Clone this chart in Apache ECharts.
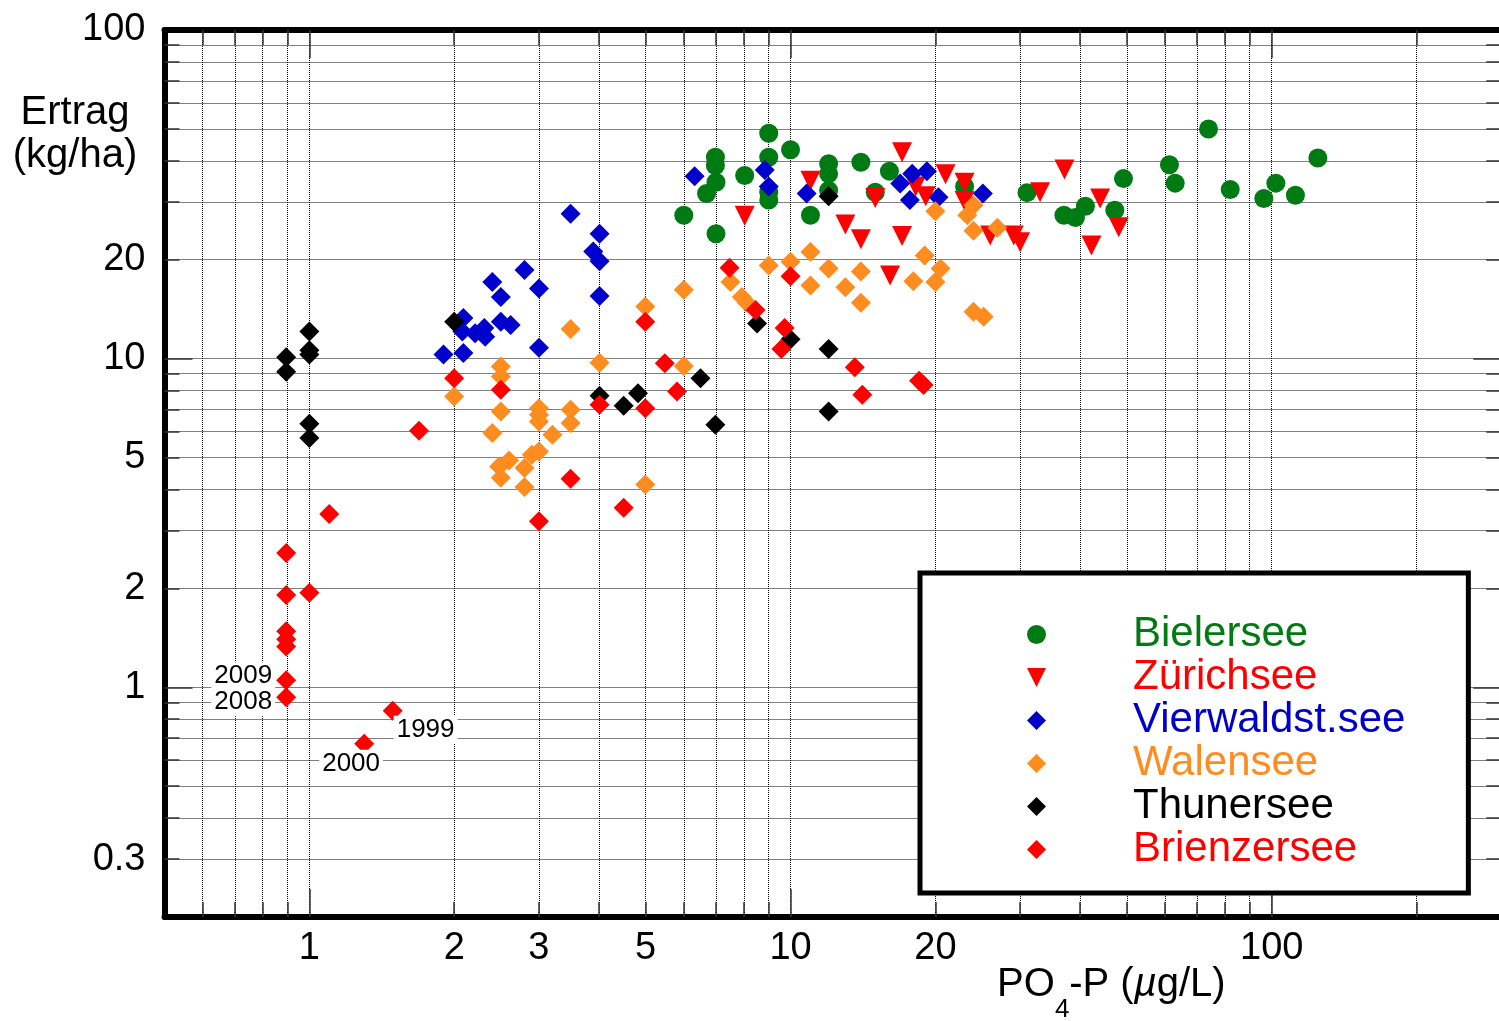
<!DOCTYPE html>
<html>
<head>
<meta charset="utf-8">
<script src="https://cdn.jsdelivr.net/npm/echarts@6/dist/echarts.min.js"></script>
<style>
html, body { margin: 0; padding: 0; background: #fff; }
#chart { width: 1499px; height: 1021px; }
</style>
</head>
<body>
<div id="chart"></div>
<script>
// ---- axes: log ticks, grid lines and labels ----
var xGridTicks = [0.6, 0.7, 0.8, 0.9, 1, 2, 3, 4, 5, 6, 7, 8, 9, 10, 20, 30, 40, 50, 60, 70, 80, 90, 100, 200];
var xMajorTicks = [1, 10, 100];
var xTickLabels = [1, 2, 3, 5, 10, 20, 100];
var yGridTicks = [0.3, 0.4, 0.5, 0.6, 0.7, 0.8, 0.9, 1, 2, 3, 4, 5, 6, 7, 8, 9, 10, 20, 30, 40, 50, 60, 70, 80, 90];
var yMajorTicks = [1, 10];
var yTickLabels = [0.3, 1, 2, 5, 10, 20, 100];

// ---- data: PO4-P (ug/L) vs Ertrag (kg/ha) ----
var bielerX = [6.0, 6.69, 6.98, 6.98, 7.0, 7.0, 8.03, 9.01, 9.01, 9.01, 9.01, 10.0, 11.0, 12.0, 12.0, 12.0, 14.0,
  15.0, 16.05, 23.0, 31.0, 37.0, 39.1, 41.0, 47.2, 49.2, 61.3, 63.0, 73.9, 82.0, 96.3, 102, 112, 124.7];
var bielerY = [27.3, 31.8, 41.0, 38.7, 34.4, 24.0, 36.1, 48.5, 41.0, 32.1, 30.4, 43.2, 27.3, 39.2, 36.5, 32.5, 39.6,
  32.1, 37.2, 33.4, 32.0, 27.3, 26.9, 29.1, 28.3, 35.3, 38.9, 34.2, 50.0, 32.7, 30.7, 34.2, 31.4, 40.8];

var zuerichX = [8.03, 11.0, 13.0, 14.0, 15.0, 16.1, 17.05, 17.05, 18.2, 19.1, 21.0, 23.0, 23.0, 26.0, 29.1, 30.0,
  33.0, 37.1, 42.2, 44.0, 48.1];
var zuerichY = [27.2, 34.8, 25.6, 23.1, 30.8, 17.9, 42.5, 23.6, 33.4, 31.2, 36.4, 34.3, 30.2, 23.7, 23.7, 22.6,
  32.1, 37.6, 22.1, 30.7, 25.1];

var vierwX = [1.90, 2.09, 2.09, 2.08, 2.21, 2.31, 2.32, 2.40, 2.50, 2.50, 2.62, 2.80, 3.0, 3.0, 3.49, 4.01, 3.89,
  4.01, 4.01, 6.32, 8.84, 9.01, 10.8, 16.9, 17.9, 19.2, 17.7, 20.3, 25.1];
var vierwY = [10.3, 10.4, 13.3, 12.1, 11.95, 12.4, 11.65, 17.1, 15.4, 12.95, 12.65, 18.6, 16.35, 10.8, 27.6, 24.0, 21.2,
  19.8, 15.5, 35.9, 37.5, 33.4, 31.8, 34.1, 36.5, 37.2, 30.4, 31.0, 31.8];

var walenX = [2.0, 2.40, 2.50, 2.50, 2.50, 2.48, 2.50, 2.60, 2.80, 2.80, 2.90, 3.0, 3.0, 3.0, 3.0, 3.20, 3.49, 3.49,
  3.49, 4.01, 4.99, 4.99, 6.0, 6.0, 7.50, 7.92, 8.11, 9.01, 10.0, 11.0, 11.0, 12.0, 13.0, 14.0, 14.0, 18.0, 19.0,
  20.0, 20.5, 20.0, 23.3, 24.0, 24.0, 26.9, 24.0, 25.2];
var walenY = [7.67, 5.94, 9.46, 8.82, 6.91, 4.70, 4.34, 4.90, 4.65, 4.07, 5.10, 5.22, 7.07, 6.75, 6.44, 5.87, 12.3, 6.99,
  6.37, 9.72, 14.4, 4.14, 16.2, 9.50, 17.1, 15.4, 14.8, 19.2, 19.7, 21.1, 16.7, 18.8, 16.5, 18.4, 14.8, 17.2, 20.6,
  17.1, 18.8, 28.1, 27.3, 29.3, 24.5, 25.0, 13.9, 13.4];

var thunX = [0.895, 0.895, 1.0, 1.0, 1.0, 1.0, 1.0, 2.0, 4.01, 4.50, 4.82, 6.50, 6.98, 8.52, 10.0, 12.0, 12.0, 12.0];
var thunY = [10.1, 9.13, 12.1, 10.6, 10.3, 6.34, 5.73, 12.95, 7.71, 7.19, 7.85, 8.72, 6.29, 12.8, 11.45, 10.7, 6.91, 31.2];

var brienzX = [0.895, 0.895, 1.0, 0.895, 0.895, 0.895, 0.895, 0.895, 1.10, 1.30, 1.49, 1.69, 2.0, 2.50, 3.0, 3.49,
  4.01, 4.50, 4.99, 4.99, 5.48, 5.81, 7.47, 8.46, 9.72, 9.57, 10.0, 13.6, 14.1, 18.5, 18.9];
var brienzY = [2.56, 1.91, 1.94, 1.48, 1.40, 1.33, 1.05, 0.933, 3.37, 0.673, 0.849, 6.03, 8.72, 8.04, 3.20, 4.31,
  7.24, 3.52, 7.07, 12.95, 9.68, 7.94, 18.9, 14.05, 12.4, 10.7, 17.8, 9.42, 7.76, 8.56, 8.32];

// years written next to some Brienzersee points (index into brienzX/Y)
var noteIndex = [6, 7, 10, 9];
var noteYears = ['2009', '2008', '1999', '2000'];

var FONT = '"Liberation Sans", Arial, Helvetica, sans-serif';
var DIAMOND = 'path://M1,0L2,1L1,2L0,1Z';
var TRI_DOWN = 'path://M0,0L2,0L1,2Z';

function pts(xs, ys) {
  return xs.map(function (x, i) { return [x, ys[i]]; });
}

function fmt(v) {
  return String(+Number(v).toPrecision(3));
}

function logAxis(dim, pos, ticks, len, opts) {
  var isX = dim === 'x';
  return {
    type: 'log',
    logBase: 10,
    min: isX ? 0.5 : 0.2,
    max: isX ? 300 : 100,
    position: pos,
    axisLine: { show: !!opts.line, onZero: false, lineStyle: { color: '#000', width: 6 } },
    axisTick: { show: true, inside: true, length: len, customValues: ticks,
      lineStyle: { color: '#333', width: 1.5 } },
    axisLabel: opts.labels ? {
      show: true, customValues: opts.labels, formatter: fmt,
      margin: isX ? 13 : 19, color: '#000', fontSize: 38, fontFamily: FONT
    } : { show: false },
    splitLine: opts.grid ? { show: true, lineStyle: { color: '#000', width: 1, type: [1, 1] } } : { show: false },
    axisPointer: { show: false }
  };
}

var notePos = [
  { position: [-1, 6], align: 'right' },
  { position: [-1, 15], align: 'right' },
  { position: [11, 29], align: 'left' },
  { position: [-35, 30], align: 'left' }
];

var brienzData = pts(brienzX, brienzY).map(function (p, i) {
  var k = noteIndex.indexOf(i);
  if (k < 0) return p;
  return {
    value: p,
    label: {
      show: true, formatter: noteYears[k], position: notePos[k].position,
      align: notePos[k].align, verticalAlign: 'middle',
      fontSize: 26, fontFamily: FONT, color: '#000',
      backgroundColor: '#fff', padding: [1, 3]
    }
  };
});

var myChart = echarts.init(document.getElementById('chart'));

var option = {
  animation: false,
  backgroundColor: '#fff',
  grid: { left: 164.5, top: 30, right: -2.3, bottom: 104, containLabel: false, outerBoundsMode: 'none' },
  xAxis: [
    logAxis('x', 'bottom', xGridTicks, 15, { line: true, grid: true, labels: xTickLabels }),
    logAxis('x', 'bottom', xMajorTicks, 28, {}),
    logAxis('x', 'top', xGridTicks, 15, { line: true }),
    logAxis('x', 'top', xMajorTicks, 28, {})
  ],
  yAxis: [
    logAxis('y', 'left', yGridTicks, 15, { line: true, grid: true, labels: yTickLabels }),
    logAxis('y', 'left', yMajorTicks, 28, {}),
    logAxis('y', 'right', yGridTicks, 15, { line: true }),
    logAxis('y', 'right', yMajorTicks, 28, {})
  ],
  legend: {
    left: 920,
    top: 573,
    orient: 'vertical',
    selectedMode: false,
    backgroundColor: '#fff',
    borderColor: '#000',
    borderWidth: 5,
    borderRadius: 0,
    padding: [40, 63, 22, 107],
    itemGap: 0,
    itemWidth: 183,
    itemHeight: 19,
    symbolKeepAspect: true,
    textStyle: { fontSize: 42, fontFamily: FONT, lineHeight: 43 },
    data: [
      { name: 'Bielersee', icon: 'circle', textStyle: { color: '#007A12' } },
      { name: 'Zürichsee', icon: TRI_DOWN, textStyle: { color: '#FF0000' } },
      { name: 'Vierwaldst.see', icon: DIAMOND, textStyle: { color: '#0000CC' } },
      { name: 'Walensee', icon: DIAMOND, textStyle: { color: '#FF8C1F' } },
      { name: 'Thunersee', icon: DIAMOND, textStyle: { color: '#000000' } },
      { name: 'Brienzersee', icon: DIAMOND, textStyle: { color: '#FF0000' } }
    ]
  },
  graphic: [
    {
      type: 'text', x: 75, y: 134, z: 10,
      style: {
        text: 'Ertrag\n(kg/ha)', fill: '#000', fontSize: 40, fontFamily: FONT,
        lineHeight: 43, align: 'center', verticalAlign: 'middle'
      }
    },
    {
      // second line carries the subscript "4", pushed right under the gap left after "PO"
      type: 'text', x: 997, y: 963, z: 10,
      style: {
        text: '{n|PO}{h|4}{n|-P (}{i|\u00b5}{n|g/L)}\n{s|4}',
        fill: '#000', align: 'left', verticalAlign: 'top',
        rich: {
          n: { fontSize: 40, fontFamily: FONT, lineHeight: 44, fill: '#000' },
          i: { fontSize: 40, fontFamily: FONT, fontStyle: 'italic', lineHeight: 44, fill: '#000' },
          h: { fontSize: 26, fontFamily: FONT, lineHeight: 44, fill: 'rgba(0,0,0,0)', opacity: 0 },
          s: { fontSize: 26, fontFamily: FONT, lineHeight: 6, padding: [0, 0, 0, 58], fill: '#000' }
        }
      }
    }
  ],
  series: [
    { name: 'Bielersee', type: 'scatter', symbol: 'circle', symbolSize: 19,
      itemStyle: { color: '#007A12', opacity: 1 }, data: pts(bielerX, bielerY) },
    { name: 'Zürichsee', type: 'scatter', symbol: TRI_DOWN, symbolSize: 20,
      itemStyle: { color: '#FF0000', opacity: 1 }, data: pts(zuerichX, zuerichY) },
    { name: 'Vierwaldst.see', type: 'scatter', symbol: 'diamond', symbolSize: 20,
      itemStyle: { color: '#0000CC', opacity: 1 }, data: pts(vierwX, vierwY) },
    { name: 'Walensee', type: 'scatter', symbol: 'diamond', symbolSize: 20,
      itemStyle: { color: '#FF8C1F', opacity: 1 }, data: pts(walenX, walenY) },
    { name: 'Thunersee', type: 'scatter', symbol: 'diamond', symbolSize: 20,
      itemStyle: { color: '#000000', opacity: 1 }, data: pts(thunX, thunY) },
    { name: 'Brienzersee', type: 'scatter', symbol: 'diamond', symbolSize: 20,
      itemStyle: { color: '#FF0000', opacity: 1 }, data: brienzData }
  ]
};

myChart.setOption(option);
</script>
</body>
</html>
